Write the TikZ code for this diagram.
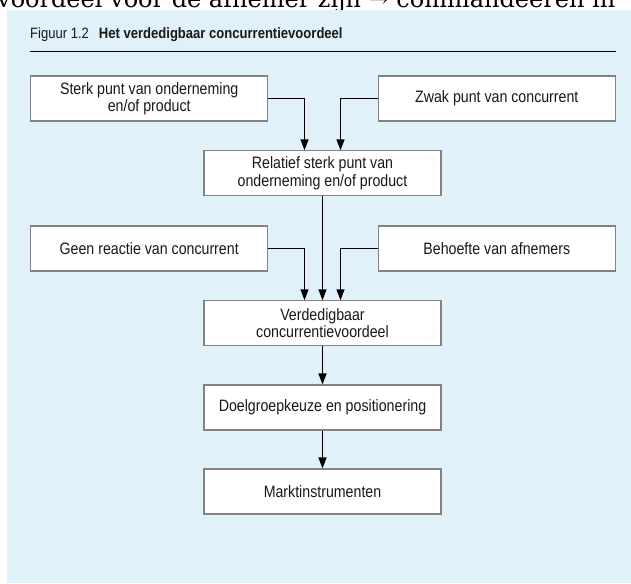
\documentclass[tikz,border=0pt]{standalone}
\usepackage{fontspec}
\setmainfont{Liberation Sans}[FakeStretch=0.87]
\newfontfamily\boxfont{Liberation Sans}[FakeStretch=0.86]
\newfontfamily\cutfont{DejaVu Serif}
\usetikzlibrary{arrows.meta}
\definecolor{panelblue}{RGB}{224,241,249}
\definecolor{boxline}{RGB}{130,130,130}
\definecolor{ink}{RGB}{25,25,25}
\tikzset{
  box/.style={draw=boxline, line width=1.1pt, fill=white, minimum width=237pt, minimum height=45pt,
    inner sep=0pt, align=center, text=ink, font=\boxfont\fontsize{16.5}{17.4}\selectfont},
  arr/.style={line width=1.5pt, -{Triangle[length=11pt,width=8pt]}}
}
\begin{document}
\begin{tikzpicture}[x=1pt,y=-1pt]
\useasboundingbox (0,0) rectangle (631,583);
\clip (0,0) rectangle (631,583);

\node[anchor=base west, inner sep=0pt, text=black, font=\cutfont\fontsize{24}{28}\selectfont] (cut) at (-3,8) {voordeel voor de afnemer zijn → commandeeren in};
\fill[panelblue] (7,10) rectangle (631,583);

\node[anchor=base west, inner sep=0pt, text=ink, font=\fontsize{15}{17}\selectfont] (title) at (30,38.3) {Figuur 1.2\hspace{10pt}\textbf{Het verdedigbaar concurrentievoordeel}};
\draw[line width=1.4pt] (30,51.7) -- (615.5,51.7);

\node[box] (sterk) at (149.2,98.5) {Sterk punt van onderneming\\en/of product};
\node[box] (zwak) at (496.8,98.5) {Zwak punt van concurrent};
\node[box] (relatief) at (322.5,173.3) {Relatief sterk punt van\\onderneming en/of product};

\node[box] (reactie) at (149.2,248.5) {Geen reactie van concurrent};
\node[box] (behoefte) at (496.8,248.5) {Behoefte van afnemers};
\node[box] (voordeel) at (322.5,323.3) {Verdedigbaar\\concurrentievoordeel};

\node[box] (doelgroep) at (322.5,407.5) {Doelgroepkeuze en positionering};
\node[box] (instrumenten) at (322.5,491.5) {Marktinstrumenten};

\draw[arr] (sterk.east) -| ([xshift=-18pt]relatief.north);
\draw[arr] (zwak.west) -| ([xshift=18pt]relatief.north);
\draw[arr] (relatief.south) -- (voordeel.north);
\draw[arr] (reactie.east) -| ([xshift=-18pt]voordeel.north);
\draw[arr] (behoefte.west) -| ([xshift=18pt]voordeel.north);
\draw[arr] (voordeel.south) -- (doelgroep.north);
\draw[arr] (doelgroep.south) -- (instrumenten.north);
\end{tikzpicture}
\end{document}
